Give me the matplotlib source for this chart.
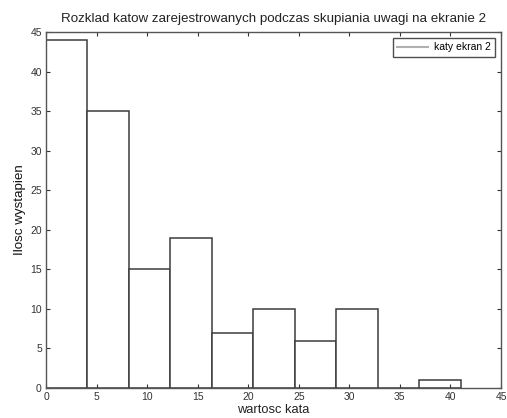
import numpy as np
import matplotlib
matplotlib.use("Agg")
import matplotlib.pyplot as plt

plt.rcParams["font.family"] = ["Liberation Sans", "DejaVu Sans"]

# histogram data: 10 bins over 0..41
bin_edges = [0, 4.1, 8.2, 12.3, 16.4, 20.5, 24.6, 28.7, 32.8, 36.9, 41.0]
counts = [44, 35, 15, 19, 7, 10, 6, 10, 0, 1]
x_ticks = [0, 5, 10, 15, 20, 25, 30, 35, 40, 45]
y_ticks = [0, 5, 10, 15, 20, 25, 30, 35, 40, 45]

fig = plt.figure(figsize=(5.07, 4.18), dpi=100)
ax = fig.add_axes([46 / 507, 1 - 388 / 418, (501 - 46) / 507, (388 - 32) / 418])

edge = "#3c3c3c"
lefts = np.array(bin_edges[:-1])
widths = np.diff(bin_edges)
ax.bar(lefts, counts, width=widths, align="edge", facecolor="white",
       edgecolor=edge, linewidth=1.1)

# legend entry drawn as a light grey line
ax.plot([], [], color="#b0b0b0", lw=1.5, label="katy ekran 2")
leg = ax.legend(loc="upper right", fontsize=7.5, frameon=True, fancybox=False,
                handlelength=3.0, handletextpad=0.5, borderaxespad=0.55,
                borderpad=0.45)
leg.get_frame().set_edgecolor("#222222")
leg.get_frame().set_linewidth(1.0)

ax.set_xlim(0, 45)
ax.set_ylim(0, 45)
ax.set_xticks(x_ticks)
ax.set_yticks(y_ticks)
ax.tick_params(direction="in", top=True, right=True, labelsize=7.5,
               length=3, width=0.8, colors="#333333", pad=3)
for s in ax.spines.values():
    s.set_color("#555555")
    s.set_linewidth(1.0)

ax.set_title("Rozklad katow zarejestrowanych podczas skupiania uwagi na ekranie 2",
             fontsize=9.6, color="#222222", pad=7)
ax.set_xlabel("wartosc kata", fontsize=9.3, color="#222222", labelpad=1)
ax.set_ylabel("Ilosc wystapien", fontsize=9.6, color="#111111", labelpad=3)

fig.savefig("out.png", dpi=100)
